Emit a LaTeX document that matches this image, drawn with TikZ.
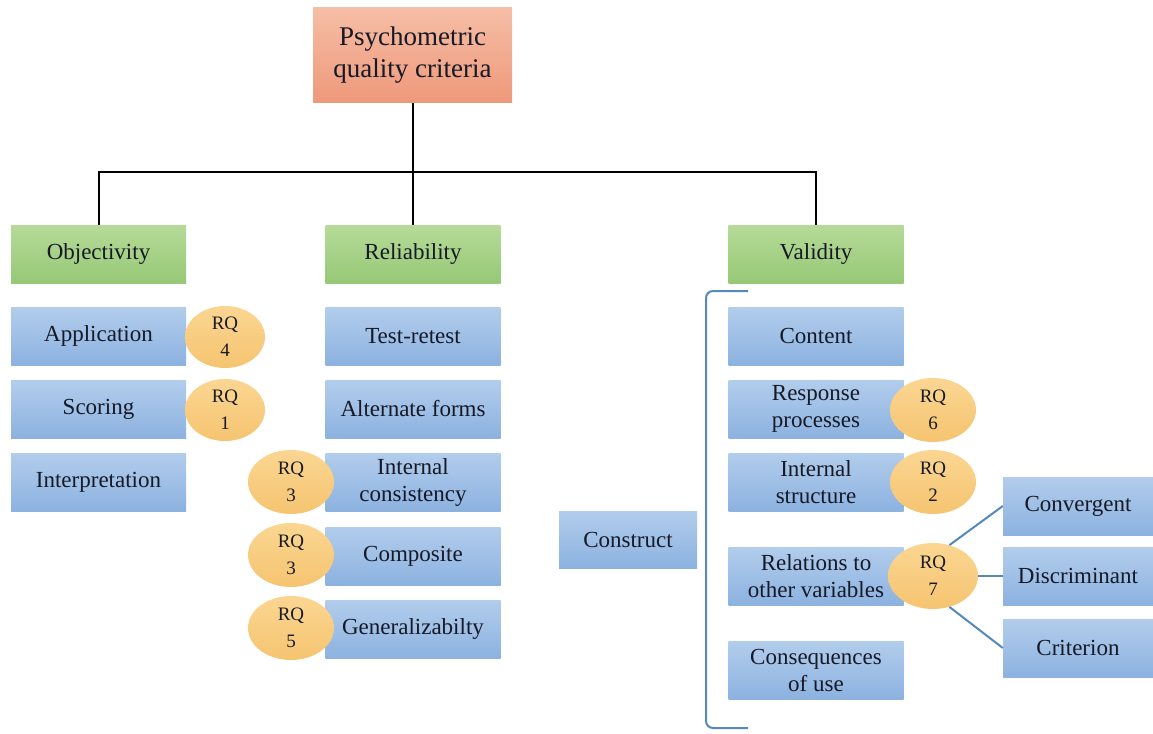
\documentclass[tikz,border=0pt]{standalone}
\usepackage{fontspec}
\setmainfont{Liberation Serif}
\usetikzlibrary{shapes.geometric}
\definecolor{ink}{RGB}{22,25,38}
\definecolor{blueT}{RGB}{178,205,236}
\definecolor{blueB}{RGB}{140,178,224}
\definecolor{greenT}{RGB}{182,219,152}
\definecolor{greenB}{RGB}{150,200,118}
\definecolor{salmonT}{RGB}{246,190,166}
\definecolor{salmonB}{RGB}{238,152,122}
\definecolor{goldT}{RGB}{251,214,146}
\definecolor{goldB}{RGB}{245,196,112}
\definecolor{linkblue}{RGB}{84,136,190}
\tikzset{
  box/.style={rectangle, inner sep=2pt, align=center, text=ink,
    font=\fontsize{23}{27}\selectfont, minimum width=175pt, minimum height=58pt},
  bluebox/.style={box, top color=blueT, bottom color=blueB},
  greenbox/.style={box, top color=greenT, bottom color=greenB},
  rootbox/.style={box, top color=salmonT, bottom color=salmonB,
    font=\fontsize{27}{32}\selectfont, minimum width=199pt, minimum height=95pt},
  rq/.style={ellipse, inner sep=0pt, align=center, text=ink,
    top color=goldT, bottom color=goldB,
    font=\fontsize{19}{27}\selectfont, minimum width=86pt, minimum height=64pt},
  tree/.style={line width=2pt, draw=black},
  link/.style={line width=2pt, draw=linkblue},
}
\begin{document}
\begin{tikzpicture}[x=1pt,y=-1pt]
\useasboundingbox (0,0) rectangle (1153,733);
\fill[white] (0,0) rectangle (1153,733);

% root and the three criteria
\node[rootbox] (root) at (412.5,55.5) {Psychometric\\quality criteria};
\node[greenbox] (obj) at (98.5,254) {Objectivity};
\node[greenbox] (rel) at (413,254) {Reliability};
\node[greenbox] (val) at (816,254) {Validity};

\coordinate (j) at (412.5,172);
\draw[tree] (root.south) -- (j);
\draw[tree] (obj.north) |- (j) -| (val.north);
\draw[tree] (rel.north) -- (rel.north |- j);

% objectivity
\node[bluebox] (app) at (98.5,336) {Application};
\node[bluebox] (sco) at (98.5,409) {Scoring};
\node[bluebox] (itp) at (98.5,482) {Interpretation};

% reliability
\node[bluebox] (tr)   at (413,336) {Test-retest};
\node[bluebox] (alt)  at (413,409) {Alternate forms};
\node[bluebox] (ic)   at (413,482) {Internal\\consistency};
\node[bluebox] (comp) at (413,556) {Composite};
\node[bluebox] (gen)  at (413,629) {Generalizabilty};

% validity
\node[bluebox] (cont) at (816,336) {Content};
\node[bluebox] (resp) at (816,409) {Response\\processes};
\node[bluebox] (ist)  at (816,482) {Internal\\structure};
\node[bluebox] (rov)  at (816,576) {Relations to\\other variables};
\node[bluebox] (cons) at (816,670) {Consequences\\of use};
\node[bluebox, minimum width=138pt, minimum height=57pt] (constr) at (628,539.5) {Construct};

\node[bluebox, minimum width=150pt] (conv) at (1078,506) {Convergent};
\node[bluebox, minimum width=150pt] (disc) at (1078,576) {Discriminant};
\node[bluebox, minimum width=150pt] (crit) at (1078,648) {Criterion};

% bracket grouping the validity evidence
\coordinate (bt) at (748,291);
\coordinate (bb) at (748,728);
\draw[link, rounded corners=7pt] (bt) -| (706,728) -- (bb);

% research questions
\node[rq, minimum width=80pt, minimum height=62pt] (rq4) at (225,337) {RQ\\4};
\node[rq, minimum width=80pt, minimum height=62pt] (rq1) at (225,410) {RQ\\1};
\node[rq] (rq3a) at (291,482) {RQ\\3};
\node[rq] (rq3b) at (291,555) {RQ\\3};
\node[rq] (rq5)  at (291,628) {RQ\\5};
\node[rq] (rq6)  at (933,410) {RQ\\6};
\node[rq] (rq2)  at (933,482) {RQ\\2};
\node[rq, minimum width=90pt, minimum height=66pt] (rq7) at (933,576) {RQ\\7};

\draw[link] (rq7.62) -- (conv.west);
\draw[link] (rq7.east) -- (disc.west);
\draw[link] (rq7.-62) -- (crit.west);
\end{tikzpicture}
\end{document}
